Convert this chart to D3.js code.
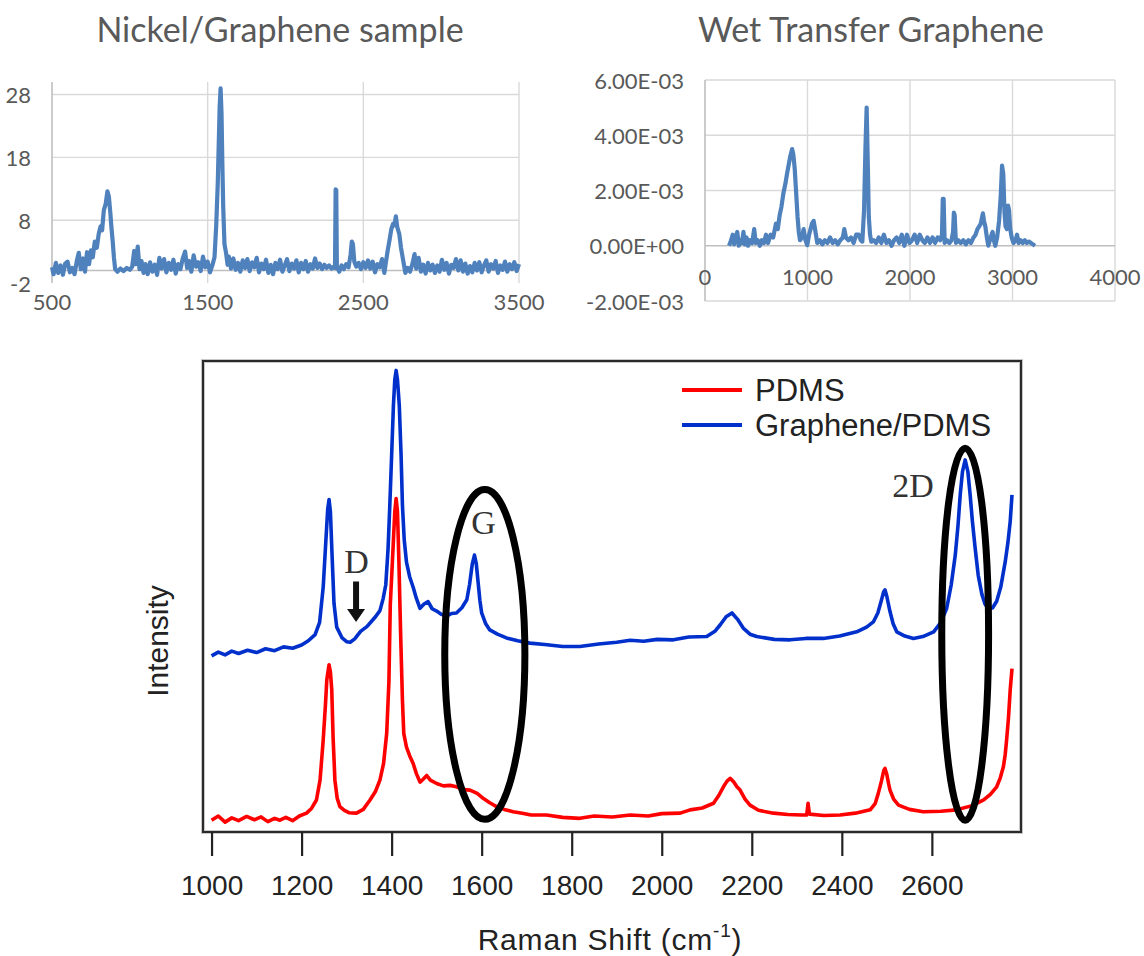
<!DOCTYPE html>
<html lang="en">
<head>
<meta charset="UTF-8">
<title>Raman spectra of graphene samples</title>
<script src="https://d3js.org/d3.v7.min.js"></script>
<style>
  body { margin: 0; background: #fff; }
  #chart { display: block; background: #fff; }
  .excel text { font-family: Lato, 'Open Sans', sans-serif; fill: #595959; }
  .excel .title { font-size: 34px; }
  .excel .tick-label { font-size: 22px; }
  .grid { stroke: #d9d9d9; stroke-width: 1.4px; }
  .axis-line { stroke: #bfbfbf; stroke-width: 1.6px; }
  .raman text { font-family: 'Liberation Sans', Arial, sans-serif; fill: #222; }
  .raman .note { font-family: 'Liberation Serif', 'Times New Roman', serif; font-size: 34px; fill: #333; }
</style>
</head>
<body>
<svg id="chart" width="1144" height="956"></svg>
<script>
// ---- Nickel/Graphene sample (x: Raman shift, y: counts) ----
const nickelSpectrum = [
  [500,0.5],[510,-0.6],[525,1.2],[540,-0.4],[555,0.8],[570,-0.7],[585,1.1],[600,1.4],[615,-0.3],[630,0.4],
  [645,-0.6],[660,1.6],[672,2.8],[685,0.2],[700,1.9],[712,-0.2],[725,2.9],[738,1.0],[750,3.2],[762,2.1],
  [775,4.6],[788,3.6],[800,5.8],[812,7.0],[822,6.4],[833,9.6],[845,10.6],[856,12.6],[865,11.8],[874,9.4],
  [882,6.8],[890,4.6],[898,2.0],[906,0.2],[920,-0.2],[940,0.3],[960,-0.1],[980,0.4],[1000,0.1],[1015,0.6],
  [1028,3.1],[1038,1.0],[1051,3.8],[1062,0.2],[1075,1.5],[1088,-0.4],[1100,1.0],[1115,-0.6],[1130,1.3],[1145,-0.2],
  [1160,0.9],[1175,-0.7],[1190,2.0],[1205,0.3],[1220,1.8],[1235,-0.3],[1250,1.2],[1265,0.1],[1280,1.7],[1295,-0.5],
  [1310,1.0],[1325,0.2],[1340,1.9],[1355,3.0],[1368,0.4],[1380,1.5],[1395,-0.2],[1410,2.4],[1425,0.6],[1440,1.3],
  [1455,-0.1],[1470,2.2],[1485,0.5],[1500,1.4],[1515,-0.3],[1530,0.8],[1544,2.1],[1555,7.2],[1565,14],[1571,20],
  [1577,26],[1583,29],[1589,25],[1594,17.4],[1600,10],[1608,4.2],[1618,2.8],[1628,0.9],[1636,2.2],[1650,0.3],
  [1665,1.9],[1680,0.1],[1695,1.2],[1710,-0.2],[1725,1.6],[1740,0.4],[1755,1.8],[1770,-0.1],[1785,1.3],[1800,0.5],
  [1815,2.0],[1830,-0.3],[1845,1.1],[1860,0.2],[1875,1.7],[1890,-0.4],[1905,0.9],[1920,-0.6],[1935,1.2],[1950,0.2],
  [1965,1.7],[1980,-0.2],[1995,0.8],[2010,1.8],[2025,-0.1],[2040,1.1],[2055,0.3],[2070,1.6],[2085,-0.3],[2100,1.2],
  [2115,0.2],[2130,1.5],[2145,-0.2],[2160,1.0],[2175,0.3],[2190,1.9],[2205,0.4],[2220,1.1],[2235,0.2],[2250,0.9],
  [2265,0.4],[2280,0.8],[2295,0.3],[2310,0.6],[2318,0.4],[2322,12.9],[2326,12.8],[2330,0.6],[2345,-0.2],[2360,0.8],
  [2375,0.2],[2390,1.0],[2405,0.5],[2418,2.5],[2426,4.6],[2433,4.2],[2442,1.4],[2455,0.6],[2470,1.2],[2485,0.2],
  [2500,1.3],[2515,0.4],[2530,1.6],[2545,0.3],[2560,1.4],[2575,-0.3],[2590,1.0],[2605,0.5],[2620,1.8],[2635,-0.4],
  [2645,1.3],[2656,3.1],[2668,4.8],[2680,6.6],[2691,7.4],[2700,7.2],[2709,8.6],[2718,6.9],[2731,5.8],[2742,3.6],
  [2756,1.6],[2770,-0.4],[2785,0.4],[2800,-0.2],[2815,1.0],[2829,2.6],[2840,0.3],[2855,2.0],[2870,-0.2],[2885,0.9],
  [2900,-0.5],[2915,1.2],[2930,0.0],[2945,0.9],[2960,-0.4],[2975,0.8],[2990,-0.2],[3005,1.7],[3020,0.1],[3035,1.2],
  [3050,-0.5],[3065,0.9],[3080,0.4],[3095,1.8],[3110,0.0],[3125,1.6],[3140,-0.2],[3155,1.1],[3170,-0.5],[3185,0.7],
  [3200,-0.3],[3215,1.2],[3230,0.0],[3245,1.3],[3260,-0.3],[3275,0.8],[3290,1.6],[3305,-0.2],[3320,1.0],[3335,0.3],
  [3350,1.5],[3365,-0.4],[3380,0.8],[3395,0.1],[3410,1.4],[3425,-0.2],[3440,1.0],[3455,0.2],[3470,1.3],[3485,-0.1],
  [3500,1.0]
];
const nickelXTicks = [500, 1500, 2500, 3500];
const nickelYTicks = [-2, 8, 18, 28];

// ---- Wet Transfer Graphene ----
const wetSpectrum = [
  [235,0],[255,0.0002],[270,0.0004],[285,0.00005],[300,0.0003],[315,0.0005],[330,0.0],[345,0.0002],[360,0.0001],[375,0.0005],
  [390,0.00005],[405,0.0003],[420,0.0],[440,0.0002],[460,0.0001],[480,0.0006],[495,0.0001],[515,0.0002],[535,0.0],[555,0.0002],
  [575,0.0001],[595,0.0004],[615,0.0001],[640,0.0004],[665,0.0003],[692,0.0008],[710,0.0006],[728,0.0011],[745,0.0014],[765,0.0019],
  [787,0.0023],[800,0.0026],[815,0.0029],[830,0.0032],[850,0.0035],[862,0.0033],[875,0.0028],[888,0.0020],[903,0.00105],[915,0.0005],
  [927,0.0002],[945,0.0003],[962,0.0006],[980,0.0002],[998,0.00002],[1015,0.0004],[1030,0.0006],[1043,0.0008],[1060,0.0009],[1078,0.0005],
  [1095,0.0001],[1120,0.0002],[1145,0.00005],[1170,0.0002],[1195,0.0001],[1220,0.0003],[1245,0.0001],[1270,0.0002],[1295,0.00005],[1320,0.0002],
  [1345,0.0003],[1359,0.0006],[1375,0.0003],[1400,0.0002],[1425,0.0003],[1450,0.0001],[1475,0.0004],[1500,0.0004],[1520,0.0002],[1535,0.00015],
  [1552,0.0013],[1565,0.0035],[1577,0.0050],[1588,0.0030],[1598,0.00105],[1610,0.0004],[1622,0.00015],[1645,0.0002],[1670,0.0001],[1695,0.0003],
  [1720,0.0001],[1745,0.0004],[1770,0.0001],[1795,0.0002],[1820,0.0],[1845,0.0002],[1870,0.0003],[1895,0.0001],[1920,0.0004],[1945,0.0],
  [1970,0.0004],[1995,0.0001],[2020,0.0002],[2045,0.0004],[2070,0.0001],[2095,0.0004],[2120,0.0002],[2145,0.0001],[2170,0.0003],[2195,0.0001],
  [2220,0.0003],[2245,0.0001],[2270,0.0003],[2295,0.0002],[2312,0.0004],[2320,0.0017],[2328,0.0017],[2338,0.0001],[2360,0.0002],[2385,0.0001],
  [2405,0.0002],[2420,0.0005],[2428,0.0012],[2436,0.0011],[2448,0.0001],[2470,0.0002],[2495,0.0001],[2520,0.0002],[2545,0.00005],[2570,0.0002],
  [2595,0.0001],[2620,0.0003],[2640,0.0004],[2658,0.0006],[2675,0.0007],[2690,0.0008],[2711,0.00117],[2722,0.0009],[2735,0.0007],[2750,0.0003],
  [2764,0.0],[2780,0.0002],[2795,0.0004],[2806,0.0005],[2818,0.0002],[2832,0.0],[2850,0.0003],[2869,0.0009],[2885,0.0018],[2898,0.0029],
  [2910,0.0026],[2922,0.0012],[2932,0.0007],[2945,0.0006],[2957,0.00145],[2966,0.0013],[2978,0.0006],[2992,0.0003],[3010,0.0001],[3030,0.0002],
  [3044,0.0004],[3060,0.0001],[3080,0.0002],[3100,0.0001],[3120,0.0002],[3140,0.0001],[3160,0.00015],[3180,0.0001],[3200,0.00005],[3220,0.0]
];
const wetXTicks = [0, 1000, 2000, 3000, 4000];
const wetYTicks = [-0.002, 0, 0.002, 0.004, 0.006];

// ---- PDMS vs Graphene/PDMS (arbitrary intensity) ----
const pdmsSpectrum = [
  [1000,2.5],[1015,3.4],[1030,2.1],[1045,3.0],[1060,2.4],[1078,3.3],[1095,2.6],[1110,3.2],[1125,2.2],[1140,2.9],
  [1152,2.5],[1165,3.1],[1180,2.4],[1195,3.4],[1211,4.0],[1222,5.0],[1233,6.8],[1241,11],[1248,19.5],[1253,27],
  [1256,32.3],[1261,35.5],[1264,34],[1267,30.2],[1270,20],[1274,11.0],[1279,7.2],[1285,5.4],[1295,4.6],[1305,4.1],
  [1322,4.0],[1337,4.8],[1352,6.8],[1364,8.6],[1374,11.0],[1382,14.5],[1389,20.9],[1394,32],[1397,48.2],[1401,56],
  [1404,62],[1407,68],[1410,70.8],[1413,68],[1416,58],[1420,42],[1424,28],[1427,20.9],[1433,18],[1440,16.2],
  [1448,14.5],[1455,12.4],[1463,10.6],[1470,11.2],[1478,12.0],[1486,11.0],[1500,10.3],[1515,9.8],[1530,9.9],[1544,9.6],
  [1560,9.0],[1574,8.9],[1590,8.2],[1604,7.1],[1618,6.2],[1633,5.4],[1650,4.8],[1670,4.3],[1690,4.0],[1710,3.6],
  [1744,3.6],[1780,3.1],[1818,2.9],[1850,3.4],[1890,3.2],[1930,3.6],[1970,3.4],[2000,3.9],[2041,4.0],[2063,4.7],
  [2090,5.1],[2115,6.1],[2127,7.8],[2137,9.6],[2145,10.8],[2152,11.4],[2160,10.6],[2167,9.6],[2174,8.9],[2185,7.0],
  [2196,5.7],[2215,4.6],[2248,4.0],[2280,3.7],[2310,3.6],[2322,3.6],[2325,6.1],[2328,3.8],[2360,3.5],[2396,3.6],
  [2430,4.0],[2463,4.7],[2474,6.0],[2481,8.2],[2488,10.8],[2493,13.0],[2496,13.5],[2500,12.2],[2504,10.2],[2507,8.9],
  [2515,7.0],[2526,5.7],[2550,4.8],[2581,4.3],[2620,4.4],[2655,4.7],[2690,5.6],[2715,6.8],[2730,8.0],[2744,9.6],
  [2752,11.5],[2759,13.9],[2763,16.5],[2766,19.5],[2770,24],[2774,30.1],[2778,34.7]
];
const graphenePdmsSpectrum = [
  [1000,37.4],[1015,38.2],[1030,37.6],[1045,38.4],[1060,37.9],[1080,38.6],[1100,38.1],[1120,38.9],[1140,38.5],[1160,39.3],
  [1180,39.0],[1200,39.7],[1215,40.6],[1230,41.9],[1240,44.5],[1248,52],[1254,62],[1258,68.5],[1261,70.6],[1264,68],
  [1268,58],[1272,48.5],[1278,43.5],[1290,41.2],[1300,40.4],[1308,40.3],[1318,41.0],[1331,42.6],[1345,43.6],[1355,44.7],
  [1365,45.8],[1374,47.0],[1381,49.5],[1387,52.5],[1392,60],[1396,69.4],[1400,80],[1404,90.6],[1407,96],[1410,98.0],
  [1413,96],[1417,90.6],[1421,80],[1424,69.4],[1428,62],[1433,57.3],[1440,54.2],[1448,51.9],[1455,49.6],[1463,47.5],
  [1472,48.4],[1481,48.9],[1490,47.4],[1500,46.9],[1511,46.2],[1522,45.8],[1533,46.4],[1544,46.5],[1556,47.6],[1567,49.3],
  [1573,52.5],[1579,56.8],[1584,58.8],[1588,57],[1592,53.1],[1596,49.2],[1600,46.5],[1609,44.2],[1618,42.9],[1635,42.0],
  [1655,41.2],[1680,40.6],[1707,40.1],[1740,39.8],[1780,39.4],[1818,39.4],[1860,39.9],[1900,40.3],[1930,40.7],[1960,40.5],
  [1990,40.9],[2026,40.8],[2060,41.4],[2100,41.5],[2118,42.6],[2130,44.0],[2143,45.7],[2156,46.5],[2168,45.2],[2181,43.3],
  [2196,42.0],[2211,41.5],[2250,40.9],[2285,40.8],[2320,41.1],[2359,41.1],[2395,41.6],[2433,42.5],[2455,43.5],[2470,44.6],
  [2480,46.5],[2487,48.9],[2493,51.0],[2496,51.4],[2500,50],[2507,46.8],[2514,44.2],[2522,42.5],[2540,41.6],[2559,41.1],
  [2580,41.5],[2604,42.5],[2620,44.5],[2633,47.5],[2643,52.5],[2652,58.8],[2658,65],[2663,71.6],[2668,76.5],[2674,79.0],
  [2680,76.5],[2685,71.6],[2690,66],[2696,60.4],[2703,54.5],[2711,50.5],[2718,48.4],[2726,47.3],[2735,47.6],[2744,49.0],
  [2753,52],[2763,57.4],[2769,61.5],[2774,65.9],[2778,71.6]
];
const ramanXTicks = [1000, 1200, 1400, 1600, 1800, 2000, 2200, 2400, 2600];
const ramanSeries = ["PDMS", "Graphene/PDMS"];
// highlighted bands: centre shift, mid intensity, half width (cm-1), half height
const bandCircles = [
  { name: "G", shift: 1607, level: 37.7, halfShift: 89, halfLevel: 35.0 },
  { name: "2D", shift: 2674, level: 42.0, halfShift: 52, halfLevel: 39.5 }
];
const bandNotes = [
  { text: "D", shift: 1322, level: 57.4 },
  { text: "G", shift: 1604, level: 65.7 },
  { text: "2D", shift: 2558, level: 73.5 }
];
const dArrow = { shift: 1321, top: 53.2, tip: 44.6 };

const svg = d3.select("#chart");

function sciLabel(v) {
  const parts = v.toExponential(2).split("e");
  const n = +parts[1];
  return parts[0] + "E" + (n < 0 ? "-" : "+") + String(Math.abs(n)).padStart(2, "0");
}

function excelPanel(opt) {
  const g = svg.append("g").attr("class", "excel");
  const x = d3.scaleLinear().domain(opt.xDomain).range([opt.left, opt.right]);
  const y = d3.scaleLinear().domain(opt.yDomain).range([opt.bottom, opt.top]);

  g.append("text").attr("class", "title")
    .attr("x", opt.titleX).attr("y", 28)
    .attr("text-anchor", "middle").attr("dominant-baseline", "central")
    .text(opt.title);

  // horizontal gridlines
  g.selectAll(".hgrid").data(opt.yGrid).enter().append("line")
    .attr("class", "grid")
    .attr("x1", opt.left).attr("x2", opt.right)
    .attr("y1", d => y(d)).attr("y2", d => y(d));
  // vertical gridlines
  g.selectAll(".vgrid").data(opt.xGrid).enter().append("line")
    .attr("class", "grid")
    .attr("x1", d => x(d)).attr("x2", d => x(d))
    .attr("y1", opt.top).attr("y2", opt.bottom);
  // axes
  g.append("line").attr("class", "axis-line")
    .attr("x1", opt.left).attr("x2", opt.left)
    .attr("y1", opt.top).attr("y2", opt.bottom);
  g.append("line").attr("class", "axis-line")
    .attr("x1", opt.left).attr("x2", opt.right)
    .attr("y1", y(0)).attr("y2", y(0));

  g.selectAll(".ylab").data(opt.yTicks).enter().append("text")
    .attr("class", "tick-label")
    .attr("x", opt.left - 21).attr("y", d => y(d))
    .attr("text-anchor", "end").attr("dominant-baseline", "central")
    .text(opt.yFormat);
  g.selectAll(".xlab").data(opt.xTicks).enter().append("text")
    .attr("class", "tick-label")
    .attr("x", d => x(d)).attr("y", y(0) + 31)
    .attr("text-anchor", "middle").attr("dominant-baseline", "central")
    .text(d => d);

  g.append("path").datum(opt.data)
    .attr("fill", "none").attr("stroke", "#4f81bd")
    .attr("stroke-width", 4.2).attr("stroke-linejoin", "round")
    .attr("d", d3.line().x(d => x(d[0])).y(d => y(d[1])));
}

excelPanel({
  title: "Nickel/Graphene sample", titleX: 280,
  data: nickelSpectrum,
  xDomain: [500, 3500], yDomain: [-2, 30],
  left: 52, right: 519, top: 82, bottom: 283,
  xTicks: nickelXTicks, yTicks: nickelYTicks,
  xGrid: nickelXTicks.slice(1), yGrid: nickelYTicks.slice(1),
  yFormat: d => d
});

excelPanel({
  title: "Wet Transfer Graphene", titleX: 871,
  data: wetSpectrum,
  xDomain: [0, 4000], yDomain: [-0.002, 0.006],
  left: 705, right: 1115, top: 80, bottom: 301,
  xTicks: wetXTicks, yTicks: wetYTicks,
  xGrid: wetXTicks.slice(1), yGrid: wetYTicks.filter(d => d !== 0),
  yFormat: sciLabel
});

// ---- bottom Raman figure ----
const frame = { left: 203, right: 1021, top: 361, bottom: 832 };
const xR = d3.scaleLinear().domain([981, 2798]).range([frame.left, frame.right]);
const yR = d3.scaleLinear().domain([0, 100]).range([frame.bottom, frame.top]);
const colorR = d3.scaleOrdinal().domain(ramanSeries).range(["#ff0000", "#0030cc"]);
const gR = svg.append("g").attr("class", "raman");

gR.append("rect")
  .attr("x", frame.left).attr("y", frame.top)
  .attr("width", frame.right - frame.left).attr("height", frame.bottom - frame.top)
  .attr("fill", "none").attr("stroke", "#c8c8c8").attr("stroke-width", 4);
gR.append("rect")
  .attr("x", frame.left).attr("y", frame.top)
  .attr("width", frame.right - frame.left).attr("height", frame.bottom - frame.top)
  .attr("fill", "none").attr("stroke", "#2a2a2a").attr("stroke-width", 2);

const ramanLine = d3.line().x(d => xR(d[0])).y(d => yR(d[1]));
[[ "PDMS", pdmsSpectrum ], [ "Graphene/PDMS", graphenePdmsSpectrum ]].forEach(([name, data]) => {
  gR.append("path").datum(data)
    .attr("fill", "none").attr("stroke", colorR(name))
    .attr("stroke-width", 3.6).attr("stroke-linejoin", "round")
    .attr("d", ramanLine);
});

// ellipses around G and 2D bands
gR.selectAll(".band").data(bandCircles).enter().append("ellipse")
  .attr("cx", d => xR(d.shift)).attr("cy", d => yR(d.level))
  .attr("rx", d => xR(d.shift + d.halfShift) - xR(d.shift))
  .attr("ry", d => yR(d.level) - yR(d.level + d.halfLevel))
  .attr("fill", "none").attr("stroke", "#000").attr("stroke-width", 7);

gR.selectAll(".note").data(bandNotes).enter().append("text")
  .attr("class", "note")
  .attr("x", d => xR(d.shift)).attr("y", d => yR(d.level))
  .attr("text-anchor", "middle").attr("dominant-baseline", "central")
  .text(d => d.text);

// arrow under D
const ax = xR(dArrow.shift), aTop = yR(dArrow.top), aTip = yR(dArrow.tip);
const aNeck = aTip - 13;
gR.append("path")
  .attr("d", `M${ax - 3},${aTop} L${ax + 3},${aTop} L${ax + 3},${aNeck} L${ax + 9},${aNeck} L${ax},${aTip} L${ax - 9},${aNeck} L${ax - 3},${aNeck} Z`)
  .attr("fill", "#111");

// x axis
const xAxisR = d3.axisBottom(xR).tickValues(ramanXTicks).tickFormat(d3.format("d"))
  .tickSize(24).tickPadding(19);
const axG = gR.append("g").attr("transform", `translate(0,${frame.bottom})`).call(xAxisR);
axG.select(".domain").remove();
axG.selectAll(".tick line").attr("stroke", "#222").attr("stroke-width", 2.2);
axG.selectAll(".tick text")
  .attr("fill", "#222").style("font-family", "'Liberation Sans', Arial, sans-serif")
  .style("font-size", "28px");

const xTitle = gR.append("text")
  .attr("x", 610).attr("y", 950).attr("text-anchor", "middle")
  .style("font-size", "30px").style("letter-spacing", "0.8px");
xTitle.append("tspan").text("Raman Shift (cm");
xTitle.append("tspan").attr("dy", -13).style("font-size", "19px").text("-1");
xTitle.append("tspan").attr("dy", 13).text(")");

gR.append("text")
  .attr("transform", "translate(157,641) rotate(-90)")
  .attr("text-anchor", "middle").attr("dominant-baseline", "central")
  .style("font-size", "30px").text("Intensity");

// legend
const legend = gR.selectAll(".legend").data(ramanSeries).enter().append("g")
  .attr("transform", (d, i) => `translate(682,${390 + i * 35})`);
legend.append("line").attr("x1", 0).attr("x2", 60)
  .attr("stroke", d => colorR(d)).attr("stroke-width", 4);
legend.append("text").attr("x", 73).attr("dominant-baseline", "central")
  .style("font-size", "31px").text(d => d);
</script>
</body>
</html>
